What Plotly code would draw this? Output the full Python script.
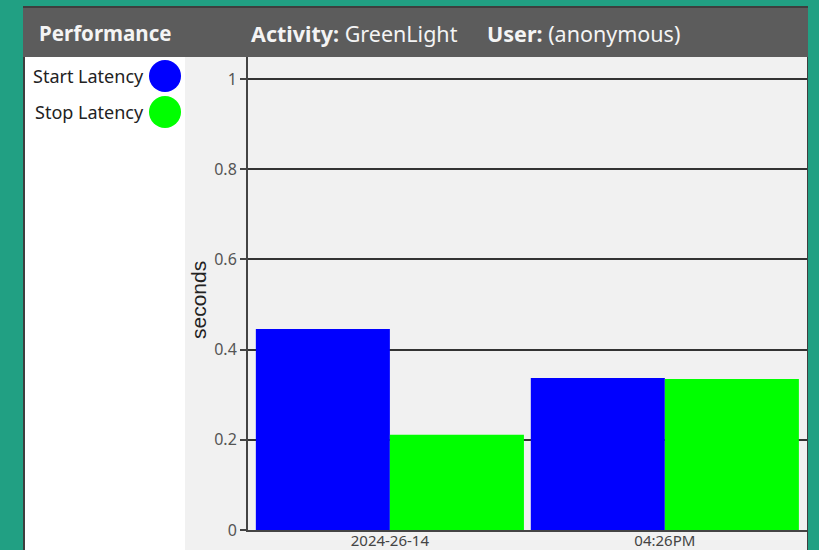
import plotly.graph_objects as go

categories = ["2024-26-14", "04:26PM"]
series_names = ["Start Latency", "Stop Latency"]
start_latency = [0.446, 0.337]
stop_latency = [0.211, 0.335]
colors = ["#0000ff", "#00ff00"]
y_ticks = [0, 0.2, 0.4, 0.6, 0.8, 1]
y_ticktext = ["0", "0.2", "0.4", "0.6", "0.8", "1"]
y_title = "seconds"

W, H = 819, 550
L, R, T, B = 248, 12, 57, 20
PW = W - L - R
PH = H - T - B


def px(x):
    return (x - L) / PW


def py(y):
    return (H - B - y) / PH


fig = go.Figure()
for name, vals, col in zip(series_names, [start_latency, stop_latency], colors):
    fig.add_trace(go.Bar(x=categories, y=vals, name=name,
                         marker=dict(color=col, line=dict(width=0)),
                         showlegend=False))

shapes = [
    dict(type="rect", xref="paper", yref="paper", x0=px(23), x1=px(808), y0=py(6), y1=py(551),
         fillcolor="#3e3e3e", line=dict(width=0), layer="below"),
    dict(type="rect", xref="paper", yref="paper", x0=px(23), x1=px(808), y0=py(8), y1=py(57),
         fillcolor="#5c5c5c", line=dict(width=0), layer="below"),
    dict(type="rect", xref="paper", yref="paper", x0=px(25), x1=px(185), y0=py(57), y1=py(551),
         fillcolor="#ffffff", line=dict(width=0), layer="below"),
    dict(type="rect", xref="paper", yref="paper", x0=px(185), x1=px(807), y0=py(57), y1=py(551),
         fillcolor="#f1f1f1", line=dict(width=0), layer="below"),
]
annotations = [
    dict(text="<b>Performance</b>", xref="paper", yref="paper", x=px(37), y=py(33),
         xanchor="left", yanchor="middle", showarrow=False,
         font=dict(family="Noto Sans", size=20.5, color="#f4f4f4")),
    dict(text="<b>Activity:</b> GreenLight", xref="paper", yref="paper", x=px(249), y=py(33),
         xanchor="left", yanchor="middle", showarrow=False,
         font=dict(family="Noto Sans", size=21.5, color="#f4f4f4")),
    dict(text="<b>User:</b> (anonymous)", xref="paper", yref="paper", x=px(485), y=py(33),
         xanchor="left", yanchor="middle", showarrow=False,
         font=dict(family="Noto Sans", size=21.5, color="#f4f4f4")),
    dict(text=y_title, xref="paper", yref="paper", x=px(198), y=py(300), textangle=-90,
         xanchor="center", yanchor="middle", showarrow=False,
         font=dict(family="Liberation Sans", size=21, color="#222222")),
]
for i, (name, col) in enumerate(zip(series_names, colors)):
    cy = 76 + 36 * i
    shapes.append(dict(type="circle", xref="paper", yref="paper",
                       x0=px(149), x1=px(181), y0=py(cy - 16), y1=py(cy + 16),
                       fillcolor=col, line=dict(width=0), layer="above"))
    annotations.append(dict(text=name, xref="paper", yref="paper", x=px(146), y=py(cy),
                            xanchor="right", yanchor="middle", showarrow=False,
                            font=dict(family="Noto Sans", size=18, color="#222222")))

fig.update_layout(
    width=W, height=H,
    margin=dict(l=L, r=R, t=T, b=B, autoexpand=False),
    paper_bgcolor="#21a083",
    plot_bgcolor="rgba(0,0,0,0)",
    barmode="group", bargap=0.025, bargroupgap=0,
    shapes=shapes, annotations=annotations,
    xaxis=dict(type="category", range=[-0.516, 1.517], showgrid=False, automargin=False,
               showline=True, linecolor="#444444", linewidth=2, ticks="",
               ticklabelstandoff=-4,
               tickfont=dict(family="Noto Sans", size=15, color="#444444"),
               fixedrange=True),
    yaxis=dict(range=[0, 1.049], tickvals=y_ticks, ticktext=y_ticktext, automargin=False,
               showgrid=True, gridcolor="#333333", gridwidth=1.5,
               showline=True, linecolor="#444444", linewidth=2, zeroline=False,
               ticks="outside", ticklen=6, tickcolor="#444444", tickwidth=1.5,
               tickfont=dict(family="Noto Sans", size=16, color="#555555")),
)

fig.write_html("out.html", config={"displayModeBar": False},
               post_script="document.body.style.margin='0';document.body.style.overflow='hidden';")
